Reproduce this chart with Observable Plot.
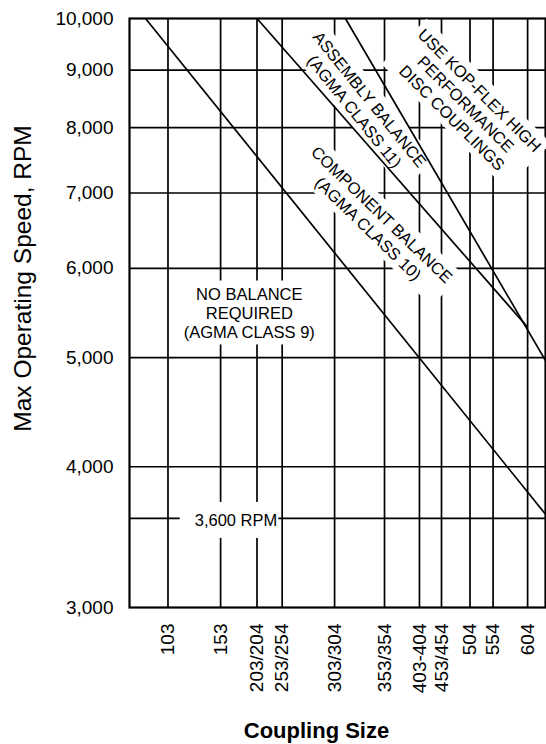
<!DOCTYPE html>
<html>
<head>
<meta charset="utf-8">
<script src="https://cdn.jsdelivr.net/npm/d3@7"></script>
<script src="https://cdn.jsdelivr.net/npm/@observablehq/plot@0.6"></script>
<style>
  html, body { margin: 0; padding: 0; background: #fff; }
  #chart svg { display: block; }
</style>
</head>
<body>
<div id="chart"></div>
<script>
// ---- Data ----
// Coupling sizes (x-axis categories) and their position along the size axis (0–100 units)
const couplingSizes = ["103", "153", "203/204", "253/254", "303/304", "353/354", "403-404", "453/454", "504", "554", "604"];
const couplingPositions = [9.25, 21.9, 30.65, 36.7, 49.3, 61.3, 69.7, 75.0, 81.85, 87.4, 95.7];

// Speed axis (log scale)
const speedTicks = [3000, 4000, 5000, 6000, 7000, 8000, 9000, 10000];
const speedGridlines = [4000, 5000, 6000, 7000, 8000, 9000, 3600];

// Balance-class boundary lines (start and end points)
const boundaryNames = ["AGMA Class 9 limit", "AGMA Class 10 limit", "AGMA Class 11 limit"];
const boundaryStartPos = [3.85, 30.65, 51.9];
const boundaryStartRPM = [10000, 10000, 10000];
const boundaryEndPos = [100, 95.7, 100];
const boundaryEndRPM = [3630, 5320, 4970];

// Region annotations
const regionLabels = [
  "NO BALANCE\nREQUIRED\n(AGMA CLASS 9)",
  "COMPONENT BALANCE\n(AGMA CLASS 10)",
  "ASSEMBLY BALANCE\n(AGMA CLASS 11)",
  "USE KOP-FLEX HIGH\nPERFORMANCE\nDISC COUPLINGS",
  "3,600 RPM"
];
const regionLabelPos = [28.8, 59.1, 56.0, 80.9, 25.6];
const regionLabelRPM = [5480, 6607, 8378, 8400, 3590];
const regionLabelAngle = [0, 44, 51, 45, 0];

const xTitle = "Coupling Size";
const yTitle = "Max Operating Speed, RPM";

// ---- Build tables ----
const sizeByPos = new Map(couplingPositions.map((p, i) => [p, couplingSizes[i]]));
const boundaries = boundaryNames.map((name, i) => ({
  name,
  x1: boundaryStartPos[i], y1: boundaryStartRPM[i],
  x2: boundaryEndPos[i], y2: boundaryEndRPM[i]
}));
const labelRows = regionLabels.map((text, i) => ({
  text, pos: regionLabelPos[i], rpm: regionLabelRPM[i], angle: regionLabelAngle[i]
}));

// ---- Styles ----
const FONT = "'Liberation Sans', Arial, Helvetica, sans-serif";
const boxPadding = { "3,600 RPM": [15, 1, 9, 9] }; // left, right, top, bottom
const defaultBoxPadding = [5, 5, 4, 3];

const chart = Plot.plot({
  width: 546,
  height: 744,
  marginTop: 18,
  marginBottom: 137,
  marginLeft: 129,
  marginRight: 1,
  style: { fontFamily: FONT, color: "#000", background: "#fff", overflow: "visible" },
  x: { type: "linear", domain: [0, 100], axis: null },
  y: { type: "log", domain: [3000, 10000], axis: null },
  marks: [
    Plot.ruleX(couplingPositions, { stroke: "#000", strokeWidth: 1.7 }),
    Plot.ruleY(speedGridlines, { stroke: "#000", strokeWidth: 1.7 }),
    Plot.frame({ stroke: "#000", strokeWidth: 2.2 }),
    Plot.axisY(speedTicks, {
      tickSize: 0, tickPadding: 16, tickFormat: d3.format(","), fontSize: 19, label: null
    }),
    Plot.axisX(couplingPositions, {
      tickSize: 0, tickPadding: 16, tickRotate: -90, tickFormat: d => sizeByPos.get(d), fontSize: 19, label: null
    }),
    Plot.text(labelRows, {
      x: "pos", y: "rpm", text: "text", rotate: "angle", fontSize: 16.5, lineHeight: 1.18, fill: "#000"
    }),
    Plot.link(boundaries, { x1: "x1", y1: "y1", x2: "x2", y2: "y2", stroke: "#000", strokeWidth: 1.7 }),
    Plot.text([yTitle], {
      frameAnchor: "left", textAnchor: "middle", lineAnchor: "middle",
      rotate: -90, dx: -106.5, dy: -34.5, fontSize: 24.5, fill: "#000"
    }),
    Plot.text([xTitle], {
      frameAnchor: "bottom", textAnchor: "middle", lineAnchor: "middle",
      dx: -21, dy: 123, fontSize: 22, fontWeight: "bold", fill: "#000"
    })
  ]
});

document.getElementById("chart").append(chart);

// White boxes behind the region annotations (masking the grid), sized from the text's own bounding box
const flatLabels = new Set(regionLabels.map(s => s.replace(/\n/g, "")));
d3.select(chart).selectAll("text").each(function () {
  const content = this.textContent;
  if (!flatLabels.has(content)) return;
  const bb = this.getBBox();
  const [pl, pr, pt, pb] = boxPadding[content] || defaultBoxPadding;
  const node = this;
  d3.select(this.parentNode)
    .insert("rect", () => node)
    .attr("x", bb.x - pl)
    .attr("y", bb.y - pt)
    .attr("width", bb.width + pl + pr)
    .attr("height", bb.height + pt + pb)
    .attr("fill", "#fff")
    .attr("transform", this.getAttribute("transform"));
});
</script>
</body>
</html>
